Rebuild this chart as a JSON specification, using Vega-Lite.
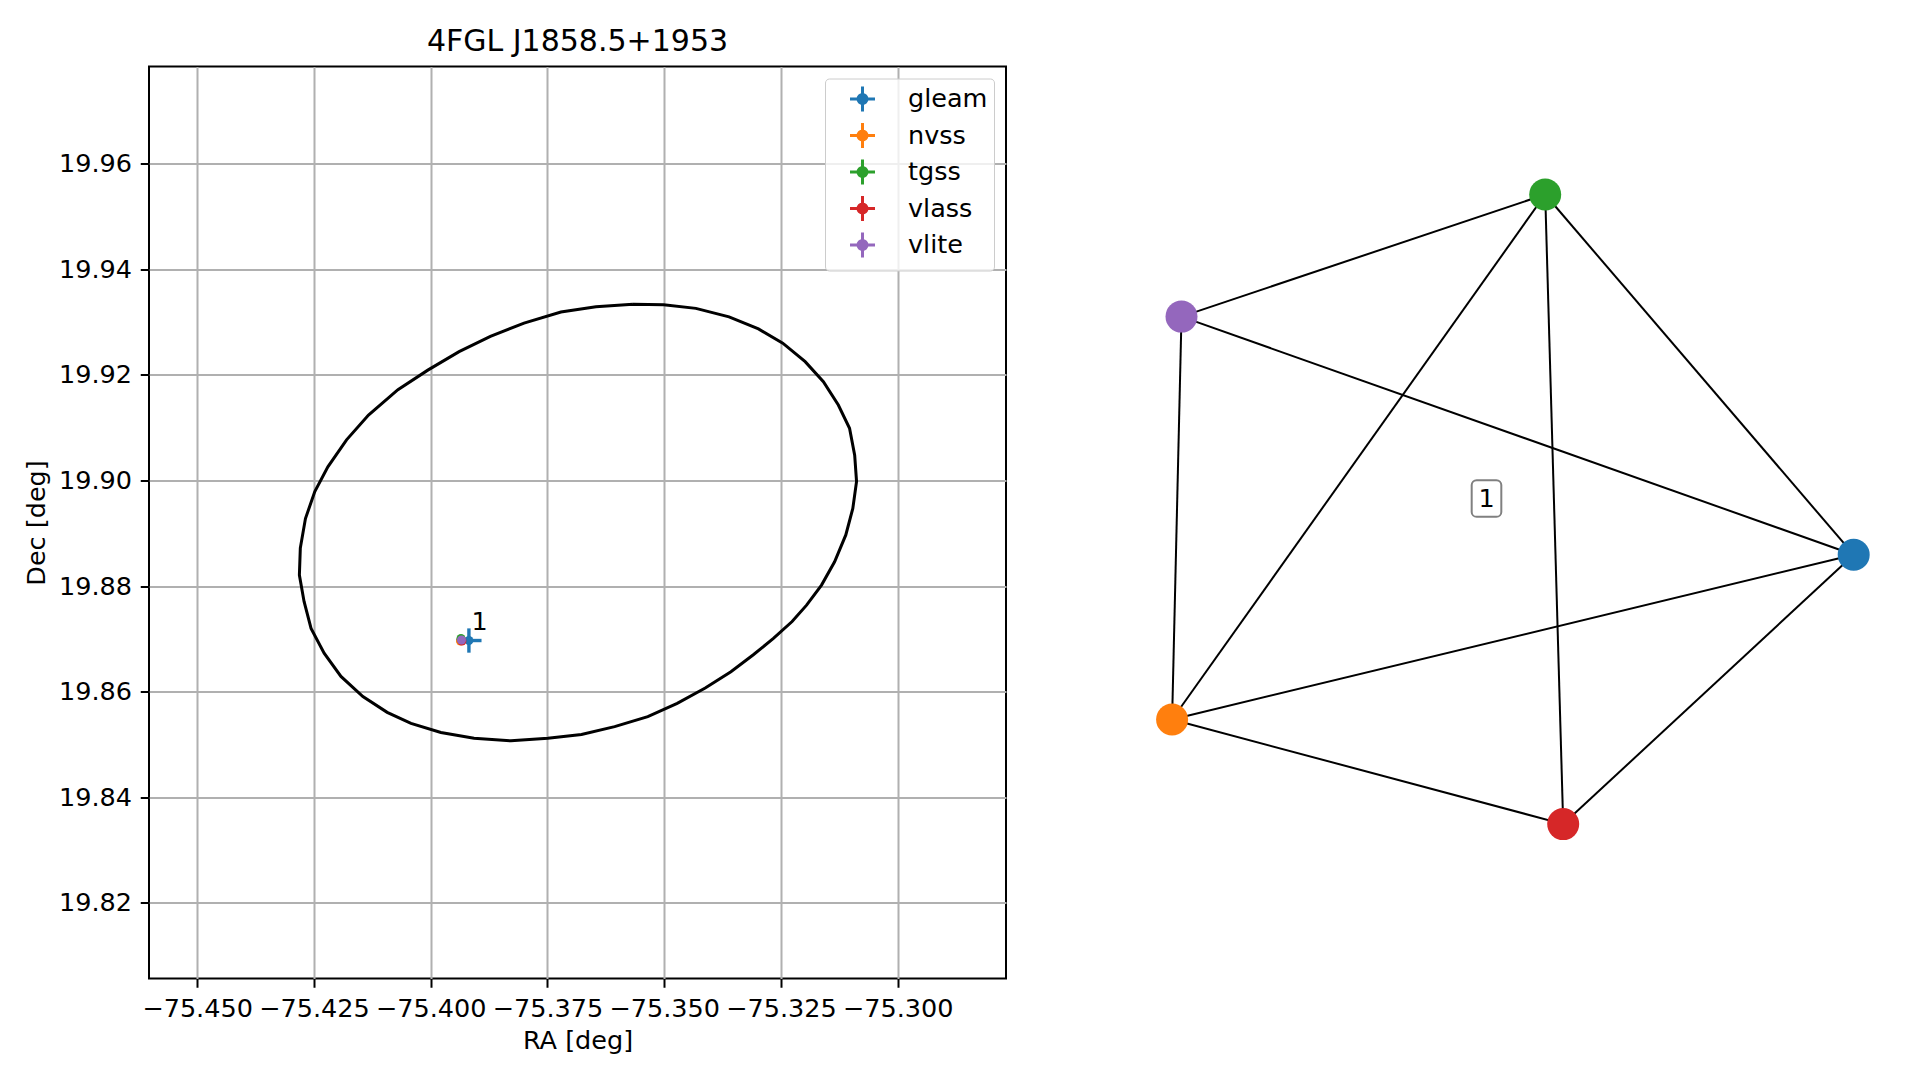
{
  "$schema": "https://vega.github.io/schema/vega-lite/v6.json",
  "background": "white",
  "padding": {"left": 23, "top": 25.5, "right": 0, "bottom": 0},
  "bounds": "flush",
  "spacing": 93,
  "config": {
    "font": "DejaVu Sans",
    "view": {"stroke": "black", "strokeWidth": 2},
    "axis": {
      "labelFont": "DejaVu Sans", "labelFontSize": 25.5, "labelColor": "#000000",
      "titleFont": "DejaVu Sans", "titleFontSize": 25.5, "titleFontWeight": "normal", "titleColor": "#000000",
      "tickColor": "#000000", "tickWidth": 2, "tickSize": 8.75, "labelPadding": 8.75,
      "gridColor": "#b0b0b0", "gridWidth": 2, "gridOpacity": 1, "domain": false
    },
    "title": {"font": "DejaVu Sans", "fontSize": 30, "fontWeight": "normal", "color": "#000000", "baseline": "alphabetic", "offset": 9.5, "anchor": "middle"}
  },
  "datasets": {
    "ellipse": [
      {"i": 0, "ra": -75.3567, "dec": 19.9334}, {"i": 1, "ra": -75.3501, "dec": 19.9333},
      {"i": 2, "ra": -75.3432, "dec": 19.9326}, {"i": 3, "ra": -75.3361, "dec": 19.9310},
      {"i": 4, "ra": -75.3298, "dec": 19.9287}, {"i": 5, "ra": -75.3246, "dec": 19.9260},
      {"i": 6, "ra": -75.3198, "dec": 19.9225}, {"i": 7, "ra": -75.3159, "dec": 19.9187},
      {"i": 8, "ra": -75.3127, "dec": 19.9143}, {"i": 9, "ra": -75.3103, "dec": 19.9099},
      {"i": 10, "ra": -75.3092, "dec": 19.9048}, {"i": 11, "ra": -75.3088, "dec": 19.8998},
      {"i": 12, "ra": -75.3096, "dec": 19.8947}, {"i": 13, "ra": -75.3111, "dec": 19.8897},
      {"i": 14, "ra": -75.3135, "dec": 19.8846}, {"i": 15, "ra": -75.3163, "dec": 19.8802},
      {"i": 16, "ra": -75.3195, "dec": 19.8764}, {"i": 17, "ra": -75.3226, "dec": 19.8733},
      {"i": 18, "ra": -75.3266, "dec": 19.8701}, {"i": 19, "ra": -75.3309, "dec": 19.8670},
      {"i": 20, "ra": -75.3357, "dec": 19.8638}, {"i": 21, "ra": -75.3412, "dec": 19.8607},
      {"i": 22, "ra": -75.3472, "dec": 19.8578}, {"i": 23, "ra": -75.3535, "dec": 19.8553},
      {"i": 24, "ra": -75.3606, "dec": 19.8534}, {"i": 25, "ra": -75.3677, "dec": 19.8519},
      {"i": 26, "ra": -75.3749, "dec": 19.8512}, {"i": 27, "ra": -75.3828, "dec": 19.8507},
      {"i": 28, "ra": -75.3907, "dec": 19.8512}, {"i": 29, "ra": -75.3978, "dec": 19.8523},
      {"i": 30, "ra": -75.4042, "dec": 19.8540}, {"i": 31, "ra": -75.4093, "dec": 19.8561},
      {"i": 32, "ra": -75.4145, "dec": 19.8591}, {"i": 33, "ra": -75.4192, "dec": 19.8629},
      {"i": 34, "ra": -75.4228, "dec": 19.8673}, {"i": 35, "ra": -75.4256, "dec": 19.8720},
      {"i": 36, "ra": -75.4271, "dec": 19.8771}, {"i": 37, "ra": -75.4281, "dec": 19.8821},
      {"i": 38, "ra": -75.4279, "dec": 19.8872}, {"i": 39, "ra": -75.4268, "dec": 19.8928},
      {"i": 40, "ra": -75.4248, "dec": 19.8979}, {"i": 41, "ra": -75.4220, "dec": 19.9026},
      {"i": 42, "ra": -75.4180, "dec": 19.9077}, {"i": 43, "ra": -75.4133, "dec": 19.9124},
      {"i": 44, "ra": -75.4070, "dec": 19.9172}, {"i": 45, "ra": -75.4006, "dec": 19.9209},
      {"i": 46, "ra": -75.3939, "dec": 19.9244}, {"i": 47, "ra": -75.3872, "dec": 19.9273},
      {"i": 48, "ra": -75.3800, "dec": 19.9298}, {"i": 49, "ra": -75.3721, "dec": 19.9319},
      {"i": 50, "ra": -75.3646, "dec": 19.9329}, {"i": 51, "ra": -75.3567, "dec": 19.9334}
    ],
    "sources": [
      {"survey": "gleam", "ra": -75.3918, "dec": 19.8697, "ra_lo": -75.3945, "ra_hi": -75.3891, "dec_lo": 19.8674, "dec_hi": 19.8720},
      {"survey": "nvss", "ra": -75.3936, "dec": 19.8696, "ra_lo": -75.3938, "ra_hi": -75.3934, "dec_lo": 19.8694, "dec_hi": 19.8698},
      {"survey": "tgss", "ra": -75.3935, "dec": 19.8701, "ra_lo": -75.3938, "ra_hi": -75.3932, "dec_lo": 19.8698, "dec_hi": 19.8704},
      {"survey": "vlass", "ra": -75.3933, "dec": 19.8696, "ra_lo": -75.3934, "ra_hi": -75.3932, "dec_lo": 19.8695, "dec_hi": 19.8697},
      {"survey": "vlite", "ra": -75.3934, "dec": 19.8698, "ra_lo": -75.3937, "ra_hi": -75.3931, "dec_lo": 19.8695, "dec_hi": 19.8701}
    ],
    "groupLabel": [{"label": "1", "ra": -75.39125, "dec": 19.87176, "gx": -0.0375, "gy": 0.072}],
    "nodes": [
      {"id": "gleam", "x": 1.0641, "y": -0.0966},
      {"id": "nvss", "x": -0.9807, "y": -0.591},
      {"id": "tgss", "x": 0.1386, "y": 0.984},
      {"id": "vlass", "x": 0.1926, "y": -0.9048},
      {"id": "vlite", "x": -0.9525, "y": 0.6177}
    ],
    "edges": [
      {"source": "tgss", "target": "vlite"},
      {"source": "tgss", "target": "nvss"},
      {"source": "tgss", "target": "vlass"},
      {"source": "tgss", "target": "gleam"},
      {"source": "vlite", "target": "nvss"},
      {"source": "vlite", "target": "gleam"},
      {"source": "nvss", "target": "gleam"},
      {"source": "nvss", "target": "vlass"},
      {"source": "vlass", "target": "gleam"}
    ]
  },
  "hconcat": [
    {
      "width": 857,
      "height": 912,
      "title": {"text": "4FGL J1858.5+1953"},
      "layer": [
        {
          "data": {"name": "ellipse"},
          "mark": {"type": "line", "color": "#000000", "strokeWidth": 3},
          "encoding": {
            "x": {"field": "ra", "type": "quantitative",
                  "scale": {"domain": [-75.4603, -75.2768], "nice": false, "zero": false},
                  "axis": {"values": [-75.45, -75.425, -75.4, -75.375, -75.35, -75.325, -75.3], "format": ".3f", "title": "RA [deg]", "titlePadding": 6.5}},
            "y": {"field": "dec", "type": "quantitative",
                  "scale": {"domain": [19.8057, 19.9784], "nice": false, "zero": false},
                  "axis": {"values": [19.82, 19.84, 19.86, 19.88, 19.9, 19.92, 19.94, 19.96], "format": ".2f", "title": "Dec [deg]", "titlePadding": 8.75}},
            "order": {"field": "i", "type": "quantitative"}
          }
        },
        {
          "data": {"name": "sources"},
          "mark": {"type": "rule", "strokeWidth": 3.4},
          "encoding": {
            "x": {"field": "ra_lo", "type": "quantitative"},
            "x2": {"field": "ra_hi"},
            "y": {"field": "dec", "type": "quantitative"},
            "color": {"field": "survey", "type": "nominal"}
          }
        },
        {
          "data": {"name": "sources"},
          "mark": {"type": "rule", "strokeWidth": 3.4},
          "encoding": {
            "x": {"field": "ra", "type": "quantitative"},
            "y": {"field": "dec_lo", "type": "quantitative"},
            "y2": {"field": "dec_hi"},
            "color": {"field": "survey", "type": "nominal"}
          }
        },
        {
          "data": {"name": "sources"},
          "mark": {"type": "point", "shape": "circle", "filled": true, "size": 81, "opacity": 1},
          "encoding": {
            "x": {"field": "ra", "type": "quantitative"},
            "y": {"field": "dec", "type": "quantitative"},
            "color": {"field": "survey", "type": "nominal",
                      "scale": {"domain": ["gleam", "nvss", "tgss", "vlass", "vlite"], "range": ["#1f77b4", "#ff7f0e", "#2ca02c", "#d62728", "#9467bd"]},
                      "legend": {
                        "title": null, "orient": "top-right", "offset": 12, "padding": 6.5,
                        "symbolType": "M-1,0H1M0,-1V1M0.36,0A0.36,0.36 0 1 1 -0.36,0A0.36,0.36 0 1 1 0.36,0Z",
                        "symbolSize": 625, "symbolStrokeWidth": 3, "symbolOffset": 17, "symbolOpacity": 1,
                        "labelOffset": 31.5, "labelFont": "DejaVu Sans", "labelFontSize": 25.5, "labelColor": "#000000",
                        "rowPadding": -1.5,
                        "fillColor": "rgba(255,255,255,0.8)", "strokeColor": "#cccccc", "cornerRadius": 4,
                        "encode": {
                          "symbols": {"update": {"fill": {"scale": "color", "field": "value"}, "stroke": {"scale": "color", "field": "value"}, "strokeWidth": {"value": 3}}}
                        }
                      }}
          }
        },
        {
          "data": {"name": "groupLabel"},
          "mark": {"type": "text", "align": "left", "baseline": "alphabetic", "fontSize": 25.5, "color": "#000000", "font": "DejaVu Sans"},
          "encoding": {
            "x": {"field": "ra", "type": "quantitative"},
            "y": {"field": "dec", "type": "quantitative"},
            "text": {"field": "label"}
          }
        }
      ]
    },
    {
      "width": 800,
      "height": 912,
      "view": {"stroke": null},
      "layer": [
        {
          "data": {"name": "edges"},
          "transform": [
            {"lookup": "source", "from": {"data": {"name": "nodes"}, "key": "id", "fields": ["x", "y"]}, "as": ["sx", "sy"]},
            {"lookup": "target", "from": {"data": {"name": "nodes"}, "key": "id", "fields": ["x", "y"]}, "as": ["tx", "ty"]}
          ],
          "mark": {"type": "rule", "color": "#000000", "strokeWidth": 2},
          "encoding": {
            "x": {"field": "sx", "type": "quantitative", "scale": {"domain": [-1.2, 1.2], "nice": false, "zero": false}, "axis": null},
            "y": {"field": "sy", "type": "quantitative", "scale": {"domain": [-1.368, 1.368], "nice": false, "zero": false}, "axis": null},
            "x2": {"field": "tx"},
            "y2": {"field": "ty"}
          }
        },
        {
          "data": {"name": "nodes"},
          "mark": {"type": "circle", "size": 1024, "opacity": 1},
          "encoding": {
            "x": {"field": "x", "type": "quantitative", "axis": null},
            "y": {"field": "y", "type": "quantitative", "axis": null},
            "color": {"field": "id", "type": "nominal",
                      "scale": {"domain": ["gleam", "nvss", "tgss", "vlass", "vlite"], "range": ["#1f77b4", "#ff7f0e", "#2ca02c", "#d62728", "#9467bd"]},
                      "legend": null}
          }
        },
        {
          "data": {"name": "groupLabel"},
          "mark": {"type": "point", "filled": true, "fill": "#ffffff", "stroke": "#808080", "strokeWidth": 2, "opacity": 1, "size": 1347,
                   "shape": "M-0.537,-1H0.537A0.27,0.27 0 0 1 0.807,-0.73V0.73A0.27,0.27 0 0 1 0.537,1H-0.537A0.27,0.27 0 0 1 -0.807,0.73V-0.73A0.27,0.27 0 0 1 -0.537,-1Z"},
          "encoding": {
            "x": {"field": "gx", "type": "quantitative", "axis": null},
            "y": {"field": "gy", "type": "quantitative", "axis": null}
          }
        },
        {
          "data": {"name": "groupLabel"},
          "mark": {"type": "text", "align": "center", "baseline": "middle", "fontSize": 25.5, "color": "#000000", "font": "DejaVu Sans"},
          "encoding": {
            "x": {"field": "gx", "type": "quantitative", "axis": null},
            "y": {"field": "gy", "type": "quantitative", "axis": null},
            "text": {"field": "label"}
          }
        }
      ]
    }
  ],
  "resolve": {"scale": {"color": "independent", "x": "independent", "y": "independent"}, "legend": {"color": "independent"}}
}
